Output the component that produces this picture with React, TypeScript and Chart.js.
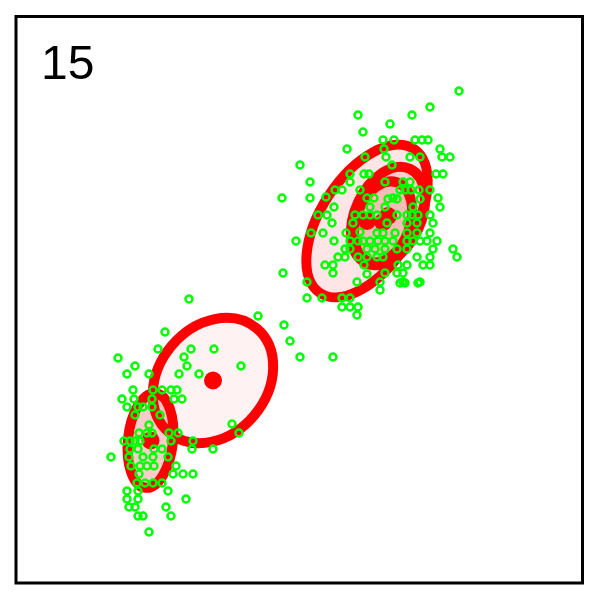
import React, { useEffect, useRef } from "react";
import { Chart, registerables } from "chart.js";

Chart.register(...registerables);

// Scatter observations (data units, x right, y up)
const pointX: number[] = [
  444, 415, 397, 343, 375, 348, 368, 379, 400, 407, 413, 332, 369, 425, 427, 435, 350, 371, 395, 405,
  285, 377, 295, 335, 335, 349, 354, 421, 428, 370, 388, 395, 267, 295, 311, 320, 327, 345, 352, 359,
  385, 390, 396, 404, 415, 423, 378, 319, 303, 312, 317, 296, 281, 308, 319, 331, 335, 343, 330, 335,
  323, 330, 310, 318, 318, 268, 292, 342, 349, 343, 352, 292, 307, 327, 335, 327, 335, 343, 342, 365,
  365, 370, 382, 388, 388, 405, 408, 415, 415, 418, 438, 442, 422, 415, 418, 415, 425, 373, 382, 405,
  398, 370, 355, 340, 348, 355, 362, 382, 392, 397, 403, 372, 392, 402, 338, 345, 362, 368, 380, 392,
  402, 348, 355, 363, 370, 378, 392, 398, 405, 412, 352, 360, 370, 382, 392, 362, 368, 402, 392, 352,
  383, 385, 390, 403,
  243, 269, 275, 285, 318,
  174, 150, 143, 176, 199, 103, 169, 120, 172, 226, 112, 134, 164, 184, 118, 138, 147, 156, 162, 107,
  119, 137, 159, 167, 112, 123, 128, 137, 120, 145, 134, 217, 224, 124, 132, 137, 154, 163, 109, 115,
  120, 125, 156, 178, 177, 198, 96, 115, 123, 139, 147, 114, 128, 138, 153, 116, 125, 132, 139, 161,
  158, 168, 178, 124, 122, 130, 138, 147, 112, 123, 153, 112, 123, 171, 114, 120, 151, 123, 128, 156,
  134,
];
const pointY: number[] = [
  492, 476, 468, 468, 459, 451, 443, 443, 443, 443, 443, 434, 434, 434, 426, 426, 426, 426, 426, 426,
  418, 418, 401, 409, 401, 409, 409, 409, 409, 401, 401, 401, 385, 385, 386, 393, 393, 393, 385, 385,
  393, 393, 393, 393, 393, 385, 385, 376, 368, 368, 360, 350, 342, 350, 342, 350, 342, 342, 334, 334,
  326, 326, 318, 318, 310, 310, 301, 301, 318, 326, 326, 285, 285, 285, 285, 276, 276, 276, 268, 301,
  293, 310, 310, 310, 301, 301, 318, 318, 326, 334, 334, 326, 342, 350, 360, 368, 376, 384, 384, 384,
  376, 376, 376, 368, 368, 368, 368, 368, 368, 368, 368, 360, 360, 360, 360, 351, 350, 350, 350, 350,
  350, 342, 342, 342, 342, 342, 342, 342, 342, 342, 334, 334, 334, 334, 334, 326, 326, 326, 318, 309,
  318, 300, 300, 300,
  267, 258, 242, 226, 226,
  284, 251, 234, 234, 234, 225, 226, 217, 217, 217, 209, 209, 209, 209, 193, 193, 193, 193, 193, 184,
  184, 184, 184, 184, 176, 176, 176, 176, 168, 168, 158, 159, 150, 150, 150, 150, 150, 150, 142, 142,
  142, 142, 142, 142, 134, 134, 126, 134, 134, 134, 134, 126, 126, 126, 126, 117, 117, 117, 117, 117,
  109, 109, 109, 109, 100, 100, 100, 100, 92, 92, 92, 84, 84, 84, 76, 76, 76, 67, 67, 67,
  51,
];

// Fitted mixture components (ellipse centre, semi-axes, rotation in degrees, fill opacity)
const ellCx: number[] = [198, 135.5, 352, 373, 368];
const ellCy: number[] = [202.5, 142.5, 362, 367, 361];
const ellA: number[] = [68, 47.5, 86, 52, 42];
const ellB: number[] = [54, 22.5, 46, 33, 27];
const ellAngle: number[] = [50, 84, 57, 65, 70];
const ellAlpha: number[] = [0.05, 0.2, 0.1, 0.1, 0.1];

const panelLabel = "15";
const axisMin = 0;
const axisMax = 568;

const ellipsePlugin = {
  id: "ellipses",
  beforeDatasetsDraw(chart: any) {
    const { ctx, chartArea, scales } = chart;
    const xs = scales.x;
    const ys = scales.y;
    const kx = Math.abs(xs.getPixelForValue(1) - xs.getPixelForValue(0));
    const ky = Math.abs(ys.getPixelForValue(1) - ys.getPixelForValue(0));
    ctx.save();
    ctx.beginPath();
    ctx.rect(chartArea.left, chartArea.top, chartArea.right - chartArea.left, chartArea.bottom - chartArea.top);
    ctx.clip();
    for (let i = 0; i < ellCx.length; i++) {
      const cx = xs.getPixelForValue(ellCx[i]);
      const cy = ys.getPixelForValue(ellCy[i]);
      ctx.beginPath();
      ctx.ellipse(cx, cy, ellA[i] * kx, ellB[i] * ky, (-ellAngle[i] * Math.PI) / 180, 0, Math.PI * 2);
      ctx.fillStyle = `rgba(255,0,0,${ellAlpha[i]})`;
      ctx.fill();
      ctx.lineWidth = 10;
      ctx.strokeStyle = "#ff0000";
      ctx.stroke();
    }
    ctx.restore();
  },
  afterDraw(chart: any) {
    const { ctx, chartArea } = chart;
    ctx.save();
    ctx.strokeStyle = "#000000";
    ctx.lineWidth = 3;
    ctx.strokeRect(chartArea.left + 1, chartArea.top + 1.5, chartArea.right - chartArea.left - 1.5, chartArea.bottom - chartArea.top - 1.5);
    ctx.fillStyle = "#000000";
    ctx.font = '48px "Liberation Sans", Arial, sans-serif';
    ctx.textBaseline = "alphabetic";
    ctx.fillText(panelLabel, chartArea.left + 26, chartArea.top + 64);
    ctx.restore();
  },
};

export default function App() {
  const canvasRef = useRef<HTMLCanvasElement | null>(null);

  useEffect(() => {
    if (!canvasRef.current) return;
    const points = pointX.map((x, i) => ({ x, y: pointY[i] }));
    const centers = ellCx.map((x, i) => ({ x, y: ellCy[i] }));
    const chart = new Chart(canvasRef.current, {
      type: "scatter",
      data: {
        datasets: [
          {
            label: "observations",
            data: points,
            pointStyle: "circle",
            pointRadius: 3.5,
            pointBorderWidth: 2.5,
            borderColor: "#00ff00",
            backgroundColor: "rgba(0,0,0,0)",
            order: 0,
          },
          {
            label: "centres",
            data: centers,
            pointStyle: "circle",
            pointRadius: 9,
            pointBorderWidth: 0,
            borderColor: "#ff0000",
            backgroundColor: "#ff0000",
            order: 1,
          },
        ],
      },
      options: {
        animation: false,
        responsive: false,
        maintainAspectRatio: false,
        layout: { padding: { left: 15, top: 15, right: 17, bottom: 9 } },
        plugins: { legend: { display: false }, tooltip: { enabled: false } },
        scales: {
          x: { type: "linear", min: axisMin, max: axisMax, display: false },
          y: { type: "linear", min: axisMin, max: axisMax, display: false },
        },
      },
      plugins: [ellipsePlugin],
    });
    return () => chart.destroy();
  }, []);

  return (
    <div style={{ position: "absolute", left: 0, top: 0, width: 600, height: 592, background: "#ffffff" }}>
      <canvas ref={canvasRef} width={600} height={592} style={{ width: 600, height: 592 }} />
    </div>
  );
}
